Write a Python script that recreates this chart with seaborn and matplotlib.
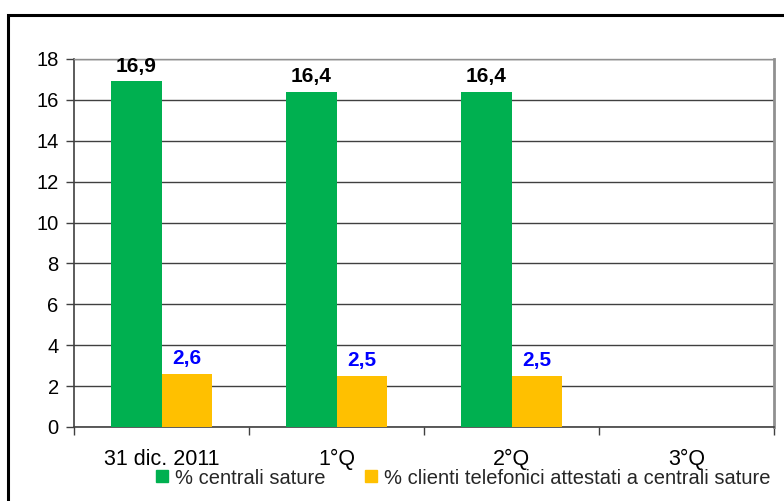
import matplotlib
matplotlib.use("Agg")
import matplotlib.pyplot as plt
import seaborn as sns
import pandas as pd
import numpy as np
from matplotlib.patches import Rectangle
from matplotlib.lines import Line2D

sns.set_theme(style="white")
plt.rcParams['font.family'] = ['Liberation Sans', 'DejaVu Sans']

categories = ["31 dic. 2011", "1°Q", "2°Q", "3°Q"]
series_names = ["% centrali sature", "% clienti telefonici attestati a centrali sature"]
centrali = [16.9, 16.4, 16.4, np.nan]
clienti = [2.6, 2.5, 2.5, np.nan]
colors = ["#00B050", "#FFC000"]
label_colors = ["black", "#0000FF"]

df = pd.DataFrame({
    "periodo": categories * 2,
    "serie": [series_names[0]] * 4 + [series_names[1]] * 4,
    "valore": centrali + clienti,
})

fig = plt.figure(figsize=(7.84, 5.01), dpi=100)
ax = fig.add_axes([74/784, 1 - 427/501, 700/784, 368/501])

# outer frame of the chart area
fig.patches.append(Rectangle((8/784, -0.2), 1.2, 1.2 - 14.5/501,
                             transform=fig.transFigure, fill=False,
                             edgecolor="black", linewidth=2.2, zorder=10))

sns.barplot(data=df, x="periodo", y="valore", hue="serie", order=categories,
            hue_order=series_names, palette=colors, width=0.58, gap=0,
            saturation=1, ax=ax, legend=False, linewidth=0, zorder=3)

for cont, lc in zip(ax.containers, label_colors):
    vals = cont.datavalues
    labels = ["" if np.isnan(v) else f"{v:.1f}".replace(".", ",") for v in vals]
    ax.bar_label(cont, labels=labels, padding=4, color=lc, fontsize=15,
                 fontweight="bold", zorder=5)

ax.set_ylim(0, 18)
ax.set_xlim(-0.5, 3.5)
ax.set_yticks(np.arange(0, 19, 2))
ax.yaxis.grid(True, color="#404040", linewidth=1, zorder=0)
ax.set_axisbelow(True)
ax.set_xlabel("")
ax.set_ylabel("")
ax.tick_params(axis="y", labelsize=14.5, length=6, width=1, color="#404040",
               left=True, pad=5)
ax.tick_params(axis="x", which="major", labelsize=15.5, length=0, pad=16)
ax.set_xticks(np.arange(-0.5, 4, 1), minor=True)
ax.tick_params(axis="x", which="minor", length=6, width=1, color="#404040",
               bottom=True)
for t in ax.get_yticklabels() + ax.get_xticklabels():
    t.set_color("black")

for side in ["left", "bottom"]:
    ax.spines[side].set_color("#404040")
    ax.spines[side].set_linewidth(1.2)
ax.spines["right"].set_color("#909090")
ax.spines["right"].set_linewidth(2)
ax.spines["top"].set_color("#909090")
ax.spines["top"].set_linewidth(1)

handles = [Line2D([], [], marker="s", linestyle="none", markersize=9,
                  markerfacecolor=c, markeredgecolor=c) for c in colors]
fig.legend(handles, series_names, loc="center", bbox_to_anchor=(462/784, 1 - 478/501),
           ncol=2, frameon=False, fontsize=14.5, handletextpad=0.2,
           columnspacing=1.8, handlelength=0.9, borderaxespad=0)

fig.savefig("out.png", dpi=100)
